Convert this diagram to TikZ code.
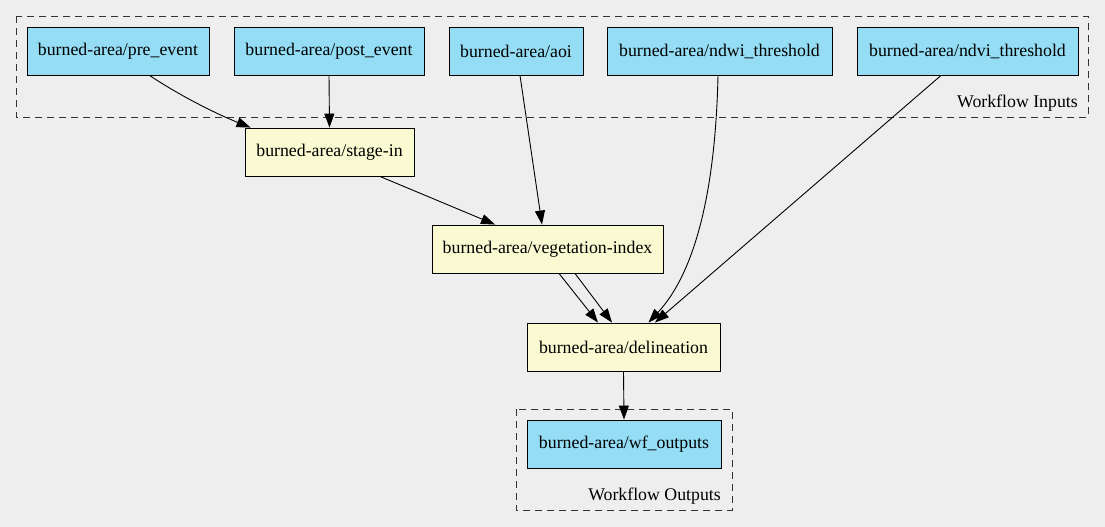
\documentclass[tikz,border=0pt]{standalone}
\usepackage{fontspec}
\setmainfont{Liberation Serif}
\usetikzlibrary{arrows.meta}
\definecolor{bgc}{HTML}{EEEEEE}
\definecolor{inblue}{HTML}{94DDF5}
\definecolor{stepyel}{HTML}{FAFAD2}
\begin{document}
\begin{tikzpicture}[x=1pt,y=-1pt,
  every node/.style={font=\fontsize{17.8}{20}\selectfont},
  io/.style={draw=black, fill=inblue, line width=0.9pt, minimum height=48pt, inner sep=0pt},
  stepbox/.style={draw=black, fill=stepyel, line width=0.9pt, minimum height=48pt, inner sep=0pt},
  cluster/.style={draw=black!80, dash pattern=on 7pt off 5pt, line width=0.9pt},
  lbl/.style={anchor=base east, inner sep=0pt},
  edge/.style={-{Triangle[length=14pt,width=10pt]}, line width=0.9pt}]
\fill[bgc] (0,0) rectangle (1105,527);
\useasboundingbox (0,0) rectangle (1105,527);
% clusters
\draw[cluster] (16,16) rectangle (1088,117);
\node[lbl] (inlbl) at (1078,107) {Workflow Inputs};
\draw[cluster] (516,409) rectangle (732,510);
\node[lbl] (outlbl) at (721,500) {Workflow Outputs};
% nodes
\node[io, minimum width=182pt] (pre) at (118,51) {burned-area/pre\_event};
\node[io, minimum width=190pt] (post) at (329,51) {burned-area/post\_event};
\node[io, minimum width=134pt] (aoi) at (516,51) {burned-area/aoi};
\node[io, minimum width=225pt] (ndwi) at (719.5,51) {burned-area/ndwi\_threshold};
\node[io, minimum width=221pt] (ndvi) at (967.5,51) {burned-area/ndvi\_threshold};
\node[stepbox, minimum width=169pt] (stage) at (329.5,152) {burned-area/stage-in};
\node[stepbox, minimum width=231pt] (veg) at (547.5,249) {burned-area/vegetation-index};
\node[stepbox, minimum width=193pt] (del) at (623.5,347) {burned-area/delineation};
\node[io, minimum width=194pt] (out) at (624,444) {burned-area/wf\_outputs};
% edges
\draw[edge] ([xshift=123pt]pre.south west) .. controls +(30,20) and +(-35,-14) .. ([xshift=6pt]stage.north west);
\draw[edge] (post.south) -- (stage.north);
\draw[edge] ([xshift=-34.5pt]stage.south east) -- ([xshift=-52.5pt]veg.north);
\draw[edge] ([xshift=4pt]aoi.south) -- ([xshift=-5.5pt]veg.north);
\draw[edge] ([xshift=-1.5pt]ndwi.south) .. controls +(-3,135) and +(40,-43) .. ([xshift=25pt]del.north);
\draw[edge] ([xshift=-26.5pt]ndvi.south) -- ([xshift=31.5pt]del.north);
\draw[edge] ([xshift=11.5pt]veg.south) -- ([xshift=-25.5pt]del.north);
\draw[edge] ([xshift=27.5pt]veg.south) -- ([xshift=-11.5pt]del.north);
\draw[edge] (del.south) -- (out.north);
\end{tikzpicture}
\end{document}
